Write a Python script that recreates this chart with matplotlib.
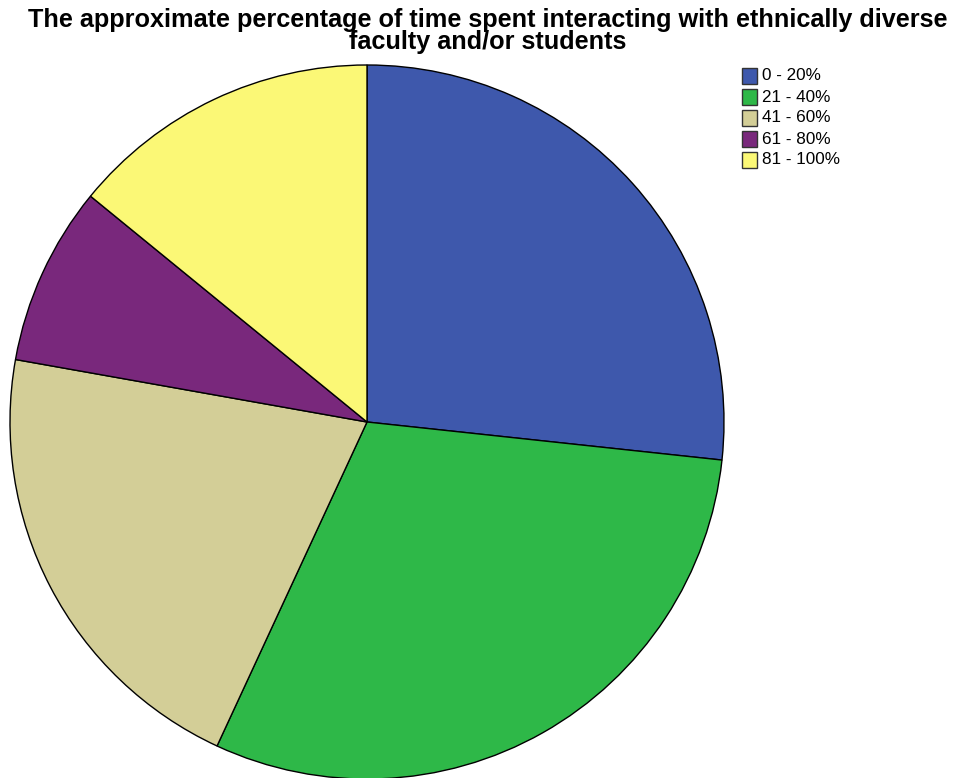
import matplotlib
matplotlib.use("Agg")
import matplotlib.pyplot as plt
from matplotlib.patches import Rectangle

categories = ["0 - 20%", "21 - 40%", "41 - 60%", "61 - 80%", "81 - 100%"]
values = [26.7, 30.2, 20.9, 8.1, 14.1]
colors = ["#3e58ac", "#2eb848", "#d3ce97", "#79287c", "#fbf876"]
title = "The approximate percentage of time spent interacting with ethnically diverse\nfaculty and/or students"

W, H = 959, 778
plt.rcParams['font.family'] = ['Liberation Sans', 'DejaVu Sans']
fig = plt.figure(figsize=(W / 100, H / 100), dpi=100)

cx, cy, r = 367, 422, 357
ax = fig.add_axes([(cx - r) / W, (H - (cy + r)) / H, 2 * r / W, 2 * r / H])
ax.pie(values, colors=colors, startangle=90, counterclock=False, radius=1,
       wedgeprops=dict(edgecolor="black", linewidth=1.0))
ax.set_xlim(-1.0, 1.0)
ax.set_ylim(-1.0, 1.0)
ax.set_aspect('auto')
ax.axis('off')

fig.text(488 / W, 1 - 31 / H, title,
         ha="center", va="center", fontsize=18.2, fontweight="bold", linespacing=0.9)

# legend drawn in figure pixel positions
sq = 15
x0 = 742
y_first = 76
pitch = 21
for i, (lab, c) in enumerate(zip(categories, colors)):
    yc = y_first + i * pitch
    fig.patches.append(Rectangle((x0 / W, 1 - (yc + sq / 2) / H), sq / W, sq / H,
                                 transform=fig.transFigure, facecolor=c,
                                 edgecolor="#333333", linewidth=1.0))
    fig.text((x0 + sq + 5) / W, 1 - yc / H, lab, ha="left", va="center", fontsize=12.3)

fig.savefig("out.png", dpi=100)
